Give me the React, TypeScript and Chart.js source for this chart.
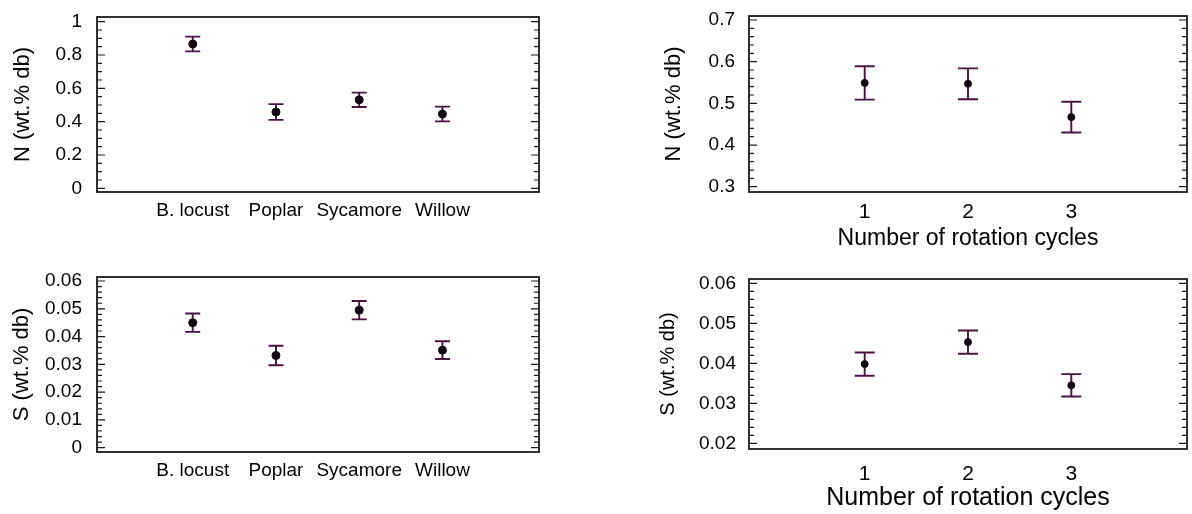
import React, { useEffect, useRef } from "react";
import { Chart, registerables } from "chart.js";

Chart.register(...registerables);

// ---------- data ----------
const speciesCategories = ["B. locust", "Poplar", "Sycamore", "Willow"];
const speciesN = [0.866, 0.458, 0.531, 0.446];
const speciesNErr = [0.044, 0.047, 0.043, 0.044];
const speciesS = [0.045, 0.0332, 0.0495, 0.0351];
const speciesSErr = [0.0033, 0.0035, 0.0033, 0.0032];

const rotationCategories = ["1", "2", "3"];
const rotationN = [0.549, 0.547, 0.467];
const rotationNErr = [0.04, 0.037, 0.037];
const rotationS = [0.0398, 0.0453, 0.0345];
const rotationSErr = [0.0029, 0.0029, 0.0028];

const nSpeciesTicks = [0, 0.2, 0.4, 0.6, 0.8, 1];
const nSpeciesTickLabels = ["0", "0.2", "0.4", "0.6", "0.8", "1"];
const sSpeciesTicks = [0, 0.01, 0.02, 0.03, 0.04, 0.05, 0.06];
const sSpeciesTickLabels = ["0", "0.01", "0.02", "0.03", "0.04", "0.05", "0.06"];
const nRotationTicks = [0.3, 0.4, 0.5, 0.6, 0.7];
const nRotationTickLabels = ["0.3", "0.4", "0.5", "0.6", "0.7"];
const sRotationTicks = [0.02, 0.03, 0.04, 0.05, 0.06];
const sRotationTickLabels = ["0.02", "0.03", "0.04", "0.05", "0.06"];

const yTitleN = "N (wt.% db)";
const yTitleS = "S (wt.% db)";
const xTitleRotation = "Number of rotation cycles";

// ---------- styles ----------
const FONT = "'Liberation Sans', Arial, Helvetica, sans-serif";
const TEXT = "#000000";
const FRAME = "#1a1a1a";
const ERR = "#4a1242";
const MARK = "#120812";

type PanelCfg = {
  left: number; top: number; w: number; h: number;
  area: { l: number; t: number; r: number; b: number };
  categories: string[]; values: number[]; errors: number[];
  xMin: number; xMax: number; yMin: number; yMax: number;
  yTicks: number[]; yTickLabels: string[]; minorStep: number;
  yTitle: string; yTitleSize: number; yTitlePad: number;
  yTickSize: number; yTickPad: number;
  xTickSize: number; xTickPad: number;
  xTitle?: string; xTitleSize?: number; xTitlePad?: number;
  cap: number; radius: number;
};

function Panel({ cfg }: { cfg: PanelCfg }) {
  const ref = useRef<HTMLCanvasElement | null>(null);
  useEffect(() => {
    if (!ref.current) return;
    const c = cfg;
    const errPlugin = {
      id: "errbars",
      beforeDatasetsDraw(chart: any) {
        const xs = chart.scales.x, ys = chart.scales.y, ctx = chart.ctx;
        ctx.save();
        ctx.strokeStyle = ERR;
        ctx.lineWidth = 1.9;
        c.values.forEach((v, i) => {
          const px = xs.getPixelForValue(i + 1);
          const yt = ys.getPixelForValue(v + c.errors[i]);
          const yb = ys.getPixelForValue(v - c.errors[i]);
          ctx.beginPath();
          ctx.moveTo(px, yt); ctx.lineTo(px, yb);
          ctx.moveTo(px - c.cap, yt); ctx.lineTo(px + c.cap, yt);
          ctx.moveTo(px - c.cap, yb); ctx.lineTo(px + c.cap, yb);
          ctx.stroke();
        });
        ctx.restore();
      },
    };
    const framePlugin = {
      id: "frame",
      afterDraw(chart: any) {
        const { left, top, right, bottom } = chart.chartArea;
        const ys = chart.scales.y, ctx = chart.ctx;
        ctx.save();
        ctx.strokeStyle = FRAME;
        ctx.lineWidth = 1.8;
        ctx.strokeRect(left, top, right - left, bottom - top);
        ctx.lineWidth = 1.2;
        ctx.beginPath();
        const first = c.yTicks[0], last = c.yTicks[c.yTicks.length - 1];
        const n = Math.round((last - first) / c.minorStep);
        for (let k = 0; k <= n; k++) {
          const v = first + k * c.minorStep;
          const y = ys.getPixelForValue(v);
          const major = c.yTicks.some((t) => Math.abs(t - v) < c.minorStep / 10);
          const len = major ? 8 : 5;
          ctx.moveTo(left, y); ctx.lineTo(left + len, y);
          ctx.moveTo(right, y); ctx.lineTo(right - len, y);
        }
        ctx.stroke();
        ctx.restore();
      },
    };
    const chart = new Chart(ref.current, {
      type: "scatter",
      data: {
        datasets: [
          {
            data: c.values.map((v, i) => ({ x: i + 1, y: v })),
            pointRadius: c.radius,
            pointBackgroundColor: MARK,
            pointBorderColor: MARK,
            pointBorderWidth: 1,
          },
        ],
      },
      options: {
        responsive: false,
        animation: false,
        events: [],
        layout: { padding: { top: c.area.t, right: c.w - c.area.r, left: 0, bottom: 0 } },
        plugins: { legend: { display: false }, tooltip: { enabled: false } },
        scales: {
          x: {
            type: "linear",
            min: c.xMin,
            max: c.xMax,
            bounds: "data",
            grid: { display: false, drawTicks: false },
            border: { display: false },
            afterBuildTicks: (s: any) => {
              s.ticks = c.categories.map((_, i) => ({ value: i + 1 }));
            },
            afterFit: (s: any) => {
              s.height = c.h - c.area.b;
              s.paddingLeft = 0; s.paddingRight = 0; s.paddingTop = 0; s.paddingBottom = 0;
            },
            ticks: {
              autoSkip: false,
              maxRotation: 0,
              minRotation: 0,
              padding: c.xTickPad,
              color: TEXT,
              font: { family: FONT, size: c.xTickSize },
              callback: (v: any) => c.categories[Math.round(Number(v)) - 1] ?? "",
            },
            title: c.xTitle
              ? {
                  display: true,
                  text: c.xTitle,
                  color: TEXT,
                  font: { family: FONT, size: c.xTitleSize },
                  padding: { top: 0, bottom: c.xTitlePad },
                }
              : { display: false },
          },
          y: {
            type: "linear",
            min: c.yMin,
            max: c.yMax,
            bounds: "data",
            grid: { display: false, drawTicks: false },
            border: { display: false },
            afterBuildTicks: (s: any) => {
              s.ticks = c.yTicks.map((v) => ({ value: v }));
            },
            afterFit: (s: any) => {
              s.width = c.area.l;
              s.paddingLeft = 0; s.paddingRight = 0; s.paddingTop = 0; s.paddingBottom = 0;
            },
            ticks: {
              autoSkip: false,
              padding: c.yTickPad,
              color: TEXT,
              font: { family: FONT, size: c.yTickSize },
              callback: (v: any) => {
                const idx = c.yTicks.findIndex((t) => Math.abs(t - Number(v)) < 1e-9);
                return idx >= 0 ? c.yTickLabels[idx] : "";
              },
            },
            title: {
              display: true,
              text: c.yTitle,
              color: TEXT,
              font: { family: FONT, size: c.yTitleSize },
              padding: { top: c.yTitlePad, bottom: 0 },
            },
          },
        },
      },
      plugins: [errPlugin, framePlugin],
    } as any);
    return () => chart.destroy();
  }, [cfg]);
  return (
    <canvas
      ref={ref}
      width={cfg.w}
      height={cfg.h}
      style={{ position: "absolute", left: cfg.left, top: cfg.top, width: cfg.w, height: cfg.h }}
    />
  );
}

const panels: PanelCfg[] = [
  {
    left: 0, top: 0, w: 560, h: 250,
    area: { l: 97, t: 17, r: 539, b: 192 },
    categories: speciesCategories, values: speciesN, errors: speciesNErr,
    xMin: -0.15, xMax: 5.16, yMin: -0.022, yMax: 1.028,
    yTicks: nSpeciesTicks, yTickLabels: nSpeciesTickLabels, minorStep: 0.05,
    yTitle: yTitleN, yTitleSize: 22, yTitlePad: 10,
    yTickSize: 19, yTickPad: 15,
    xTickSize: 19, xTickPad: 7,
    cap: 7.5, radius: 4,
  },
  {
    left: 600, top: 0, w: 592, h: 260,
    area: { l: 149, t: 16, r: 591, b: 192 },
    categories: rotationCategories, values: rotationN, errors: rotationNErr,
    xMin: -0.12, xMax: 4.12, yMin: 0.2873, yMax: 0.7096,
    yTicks: nRotationTicks, yTickLabels: nRotationTickLabels, minorStep: 0.02,
    yTitle: yTitleN, yTitleSize: 22, yTitlePad: 61,
    yTickSize: 19, yTickPad: 14,
    xTickSize: 21, xTickPad: 8,
    xTitle: xTitleRotation, xTitleSize: 23, xTitlePad: 8,
    cap: 10, radius: 3.5,
  },
  {
    left: 0, top: 250, w: 560, h: 264,
    area: { l: 97, t: 27, r: 539, b: 202 },
    categories: speciesCategories, values: speciesS, errors: speciesSErr,
    xMin: -0.15, xMax: 5.16, yMin: -0.00155, yMax: 0.06144,
    yTicks: sSpeciesTicks, yTickLabels: sSpeciesTickLabels, minorStep: 0.002,
    yTitle: yTitleS, yTitleSize: 22, yTitlePad: 9,
    yTickSize: 19, yTickPad: 15,
    xTickSize: 19, xTickPad: 7,
    cap: 7.5, radius: 4,
  },
  {
    left: 600, top: 260, w: 592, h: 254,
    area: { l: 149, t: 19, r: 591, b: 189 },
    categories: rotationCategories, values: rotationS, errors: rotationSErr,
    xMin: -0.12, xMax: 4.12, yMin: 0.01858, yMax: 0.06108,
    yTicks: sRotationTicks, yTickLabels: sRotationTickLabels, minorStep: 0.002,
    yTitle: yTitleS, yTitleSize: 20, yTitlePad: 56,
    yTickSize: 19, yTickPad: 13,
    xTickSize: 21, xTickPad: 13,
    xTitle: xTitleRotation, xTitleSize: 25, xTitlePad: 1,
    cap: 10, radius: 3.5,
  },
];

export default function App() {
  return (
    <div style={{ position: "absolute", left: 0, top: 0, width: 1192, height: 514, background: "#ffffff", overflow: "hidden" }}>
      {panels.map((p, i) => (
        <Panel key={i} cfg={p} />
      ))}
    </div>
  );
}
